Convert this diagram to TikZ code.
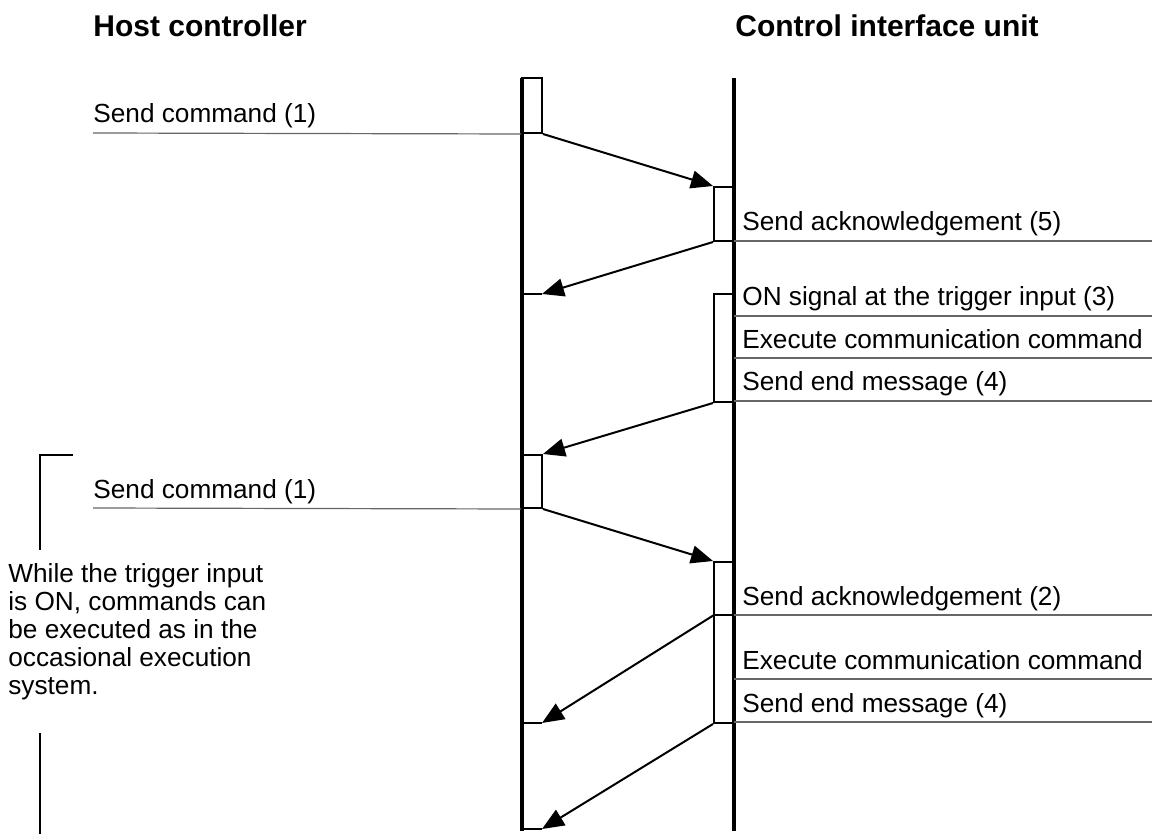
\documentclass[tikz,border=0pt]{standalone}
\usepackage{fontspec}
\setmainfont{Liberation Sans}
\usetikzlibrary{arrows.meta}
\tikzset{
  lifeline/.style={line width=1.6pt},
  actbox/.style={draw,line width=1pt,minimum width=10pt,inner sep=0pt},
  msg/.style={line width=1pt,-{Triangle[length=11pt,width=9pt]}},
  rule/.style={line width=0.6pt,black!60},
  lbl/.style={anchor=base west,inner sep=0pt,font=\fontsize{13.1}{14}\selectfont},
  head/.style={anchor=base west,inner sep=0pt,font=\fontsize{15}{18}\selectfont\bfseries},
}
\begin{document}
\begin{tikzpicture}[x=0.5pt,y=-0.5pt,line cap=butt,line join=miter]
  \useasboundingbox (0,0) rectangle (1152,834);
  % headings
  \node[head] (host) at (93,37) {Host controller};
  \node[head] (ciu) at (735,37) {Control interface unit};
  % activation boxes
  \node[actbox,minimum height=27.5pt] (h1) at (532,105.5) {};
  \node[actbox,minimum height=27pt] (c1) at (724,214) {};
  \coordinate (h2) at (542,294);
  \node[actbox,minimum height=54pt] (c2) at (724,348) {};
  \node[actbox,minimum height=26.5pt] (h3) at (532,481.5) {};
  \node[actbox,minimum height=80.5pt] (c3) at (724,642.5) {};
  \coordinate (c3m) at (714,615);
  \coordinate (h4) at (542,723);
  \coordinate (h5) at (542,829);
  \draw[line width=1pt] (c3m) -- (734,615);
  % lifelines
  \coordinate (hTop) at (522,78);
  \coordinate (hBot) at (522,831);
  \coordinate (cTop) at (734,78);
  \coordinate (cBot) at (734,831);
  \draw[line width=1pt] (h2) -- (h2 -| hTop);
  \draw[line width=1pt] (h4) -- (h4 -| hTop);
  \draw[line width=1pt] (h5) -- (h5 -| hTop);
  \draw[lifeline] (hTop) -- (hBot);
  \draw[lifeline] (cTop) -- (cBot);
  % messages
  \draw[msg] (h1.south east) -- (c1.north west);
  \draw[msg] (c1.south west) -- (h2);
  \draw[msg] (c2.south west) -- (h3.north east);
  \draw[msg] (h3.south east) -- (c3.north west);
  \draw[msg] (c3m) -- (h4);
  \draw[msg] (c3.south west) -- (h5);
  % host side labels
  \node[lbl] (cmd1) at (93,123) {Send command (1)};
  \draw[rule] (93,133) -- (h1.south west);
  \node[lbl] (cmd2) at (93,498) {Send command (1)};
  \draw[rule] (93,508) -- (h3.south west);
  % unit side labels
  \node[lbl] (ack5) at (742,231) {Send acknowledgement (5)};
  \draw[rule] (734,241) -- (1152,241);
  \node[lbl] (trig) at (742,306) {ON signal at the trigger input (3)};
  \draw[rule] (734,316) -- (1152,316);
  \node[lbl] (exe1) at (742,349) {Execute communication command};
  \draw[rule] (734,358) -- (1152,358);
  \node[lbl] (end1) at (742,391) {Send end message (4)};
  \draw[rule] (734,401) -- (1152,401);
  \node[lbl] (ack2) at (742,605) {Send acknowledgement (2)};
  \draw[rule] (734,615) -- (1152,615);
  \node[lbl] (exe2) at (742,669) {Execute communication command};
  \draw[rule] (734,679) -- (1152,679);
  \node[lbl] (end2) at (742,712) {Send end message (4)};
  \draw[rule] (734,722) -- (1152,722);
  % bracket with note
  \draw[line width=1pt] (73,455) -- (40,455) -- (40,550);
  \draw[line width=1pt] (40,733) -- (40,834);
  \node[lbl,align=left] (note) at (8,694) {While the trigger input\\is ON, commands can\\be executed as in the\\occasional execution\\system.};
\end{tikzpicture}
\end{document}
